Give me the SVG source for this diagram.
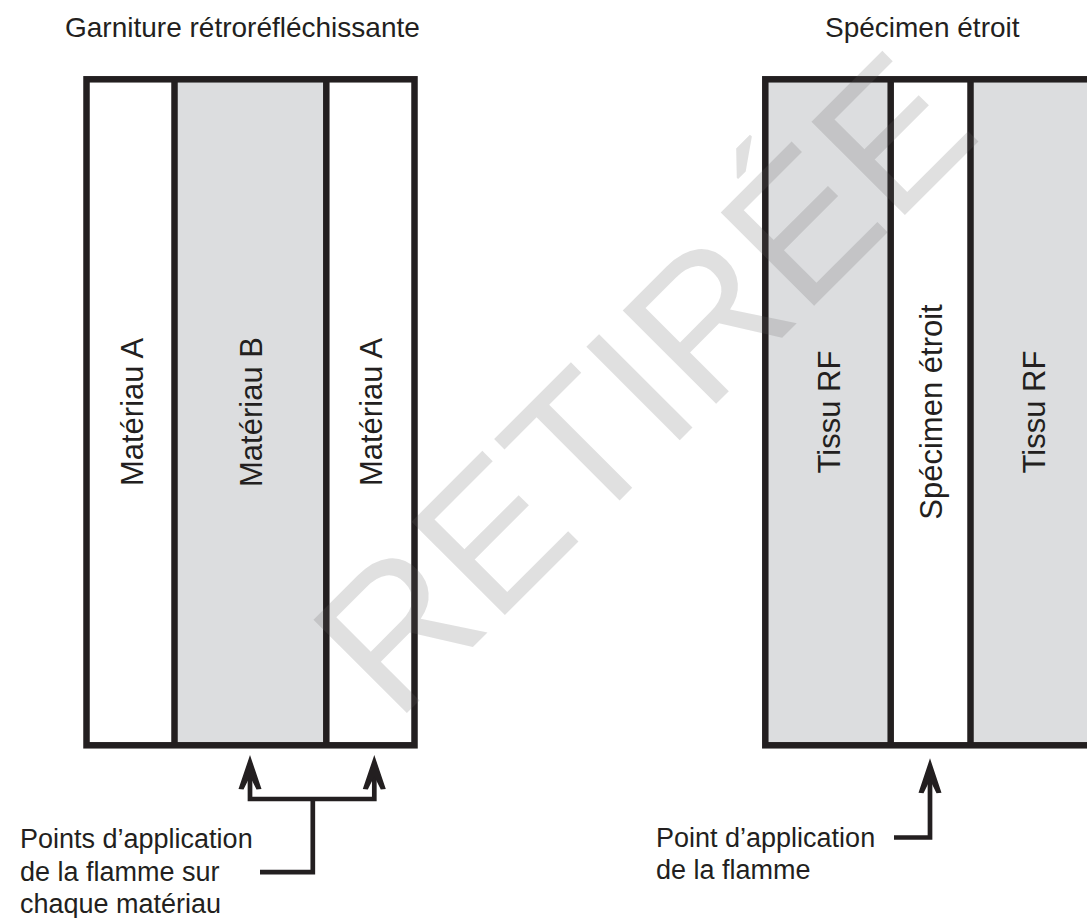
<svg xmlns="http://www.w3.org/2000/svg" width="1087" height="918" viewBox="0 0 1087 918">
  <style>
    text { font-family: "Liberation Sans", Arial, sans-serif; fill: #231f20; }
    .title { font-size: 28px; }
    .lbl { font-size: 27px; }
    .vlbl { font-size: 31px; text-anchor: middle; }
    .frame { fill: none; stroke: #231f20; stroke-width: 6.5; }
    .div { stroke: #231f20; stroke-width: 6.5; }
    .gray { fill: #dcdddf; }
    .white { fill: #ffffff; }
    .conn { fill: none; stroke: #231f20; stroke-width: 4.7; stroke-linejoin: miter; stroke-linecap: butt; }
    .head { fill: #231f20; }
    .wm { font-size: 192px; fill: #646464; fill-opacity: 0.2; text-anchor: middle; }
  </style>
  <rect width="1087" height="918" fill="#ffffff"/>

  <g id="titles">
    <text class="title" x="65" y="37">Garniture rétroréfléchissante</text>
    <text class="title" x="825" y="37">Spécimen étroit</text>
  </g>

  <g id="garniture">
    <rect class="white" x="86.5" y="79.3" width="88" height="666"/>
    <rect class="gray" x="174.5" y="79.3" width="151.8" height="666"/>
    <rect class="white" x="326.3" y="79.3" width="88.2" height="666"/>
    <line class="div" x1="174.5" y1="79.3" x2="174.5" y2="745.3"/>
    <line class="div" x1="326.3" y1="79.3" x2="326.3" y2="745.3"/>
    <rect class="frame" x="86.5" y="79.3" width="328" height="666"/>
    <text class="vlbl" transform="translate(131 412) rotate(-90)" y="11.5">Matériau A</text>
    <text class="vlbl" transform="translate(250.6 412) rotate(-90)" y="11.5">Matériau B</text>
    <text class="vlbl" transform="translate(370.7 412) rotate(-90)" y="11.5">Matériau A</text>
  </g>

  <g id="specimen">
    <rect class="gray" x="765.3" y="79.3" width="125.4" height="666"/>
    <rect class="white" x="890.7" y="79.3" width="79.8" height="666"/>
    <rect class="gray" x="970.5" y="79.3" width="130" height="666"/>
    <line class="div" x1="890.7" y1="79.3" x2="890.7" y2="745.3"/>
    <line class="div" x1="970.5" y1="79.3" x2="970.5" y2="745.3"/>
    <rect class="frame" x="765.3" y="79.3" width="335" height="666"/>
    <text class="vlbl" transform="translate(828.3 412) rotate(-90)" y="11.5">Tissu RF</text>
    <text class="vlbl" transform="translate(930.8 412) rotate(-90)" y="11.5">Spécimen étroit</text>
    <text class="vlbl" transform="translate(1033.3 412) rotate(-90)" y="11.5">Tissu RF</text>
  </g>

  <g id="connectors">
    <path class="conn" d="M250,774 V799 H374.3 V774"/>
    <path class="conn" d="M312.8,799 V872.2 H260"/>
    <polygon class="head" points="250,755 261.5,789 256.5,789.5 250,776.5 243.5,789.5 238.5,789"/>
    <polygon class="head" points="374.3,755 385.8,789 380.8,789.5 374.3,776.5 367.8,789.5 362.8,789"/>
    <path class="conn" d="M930,778 V837.5 H894"/>
    <polygon class="head" points="930,758.3 941.5,792.8 936.5,793.3 930,780 923.5,793.3 918.5,792.8"/>
  </g>

  <g id="labels">
    <text class="lbl" x="20" y="848">Points d’application</text>
    <text class="lbl" x="20" y="880.5">de la flamme sur</text>
    <text class="lbl" x="20" y="913">chaque matériau</text>
    <text class="lbl" x="656" y="846.5">Point d’application</text>
    <text class="lbl" x="656" y="879">de la flamme</text>
  </g>

  <g id="watermark">
    <text class="wm" transform="translate(690 430) rotate(-45)">RETIRÉE</text>
  </g>
</svg>
